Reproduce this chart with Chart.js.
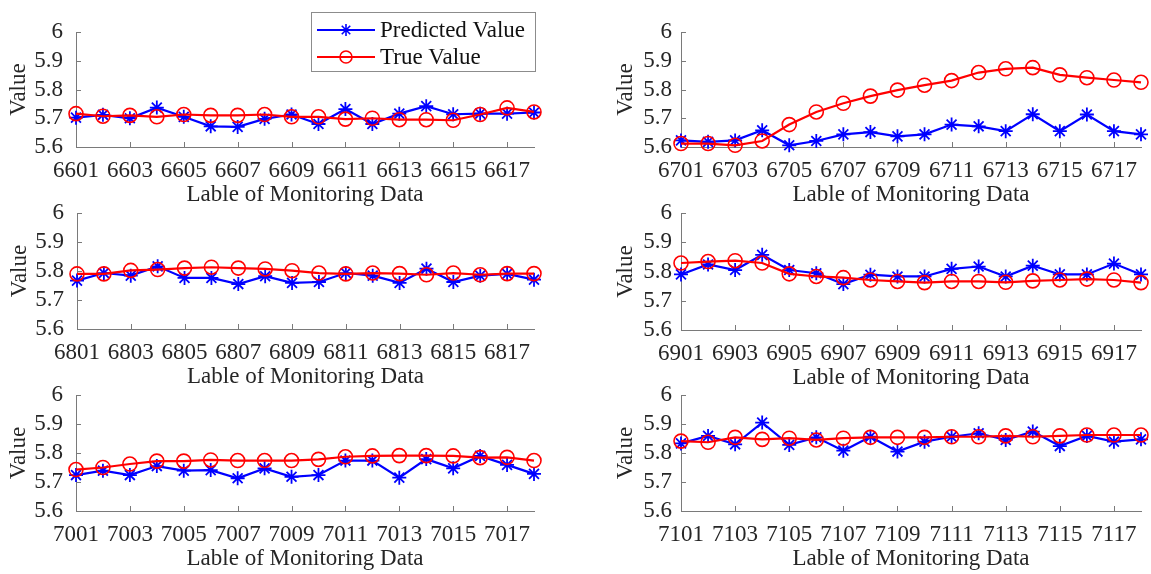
<!DOCTYPE html>
<html>
<head>
<meta charset="utf-8">
<script src="https://cdn.jsdelivr.net/npm/chart.js@4.4.1/dist/chart.umd.min.js"></script>
<style>
  body { margin: 0; background: #fff; width: 1151px; height: 574px; overflow: hidden; position: relative; }
  canvas { position: absolute; }
</style>
</head>
<body>
<script>
// monitoring data labels (x axis), one list per subplot
var ids66 = [6601,6602,6603,6604,6605,6606,6607,6608,6609,6610,6611,6612,6613,6614,6615,6616,6617,6618];
var ids67 = [6701,6702,6703,6704,6705,6706,6707,6708,6709,6710,6711,6712,6713,6714,6715,6716,6717,6718];
var ids68 = [6801,6802,6803,6804,6805,6806,6807,6808,6809,6810,6811,6812,6813,6814,6815,6816,6817,6818];
var ids69 = [6901,6902,6903,6904,6905,6906,6907,6908,6909,6910,6911,6912,6913,6914,6915,6916,6917,6918];
var ids70 = [7001,7002,7003,7004,7005,7006,7007,7008,7009,7010,7011,7012,7013,7014,7015,7016,7017,7018];
var ids71 = [7101,7102,7103,7104,7105,7106,7107,7108,7109,7110,7111,7112,7113,7114,7115,7116,7117,7118];

// predicted values (blue *)
var pred66 = [5.702,5.712,5.700,5.737,5.705,5.672,5.670,5.698,5.713,5.680,5.732,5.680,5.716,5.742,5.714,5.716,5.716,5.720];
var pred67 = [5.623,5.618,5.623,5.658,5.606,5.621,5.644,5.652,5.637,5.644,5.678,5.672,5.655,5.714,5.655,5.713,5.655,5.644];
var pred68 = [5.767,5.793,5.784,5.816,5.776,5.776,5.755,5.782,5.759,5.762,5.793,5.784,5.759,5.808,5.762,5.784,5.790,5.770];
var pred69 = [5.790,5.824,5.805,5.857,5.805,5.794,5.757,5.789,5.783,5.783,5.809,5.817,5.783,5.820,5.790,5.790,5.827,5.790];
var pred70 = [5.724,5.739,5.724,5.755,5.739,5.741,5.713,5.747,5.718,5.724,5.774,5.774,5.715,5.779,5.747,5.790,5.759,5.728];
var pred71 = [5.833,5.859,5.830,5.905,5.828,5.854,5.808,5.856,5.805,5.839,5.856,5.868,5.845,5.874,5.824,5.859,5.839,5.847];

// true values (red o)
var true66 = [5.716,5.707,5.710,5.705,5.713,5.710,5.710,5.713,5.705,5.705,5.697,5.700,5.695,5.695,5.693,5.713,5.736,5.722];
var true67 = [5.612,5.612,5.606,5.621,5.678,5.722,5.752,5.777,5.798,5.815,5.831,5.859,5.872,5.876,5.851,5.841,5.833,5.825];
var true68 = [5.790,5.790,5.802,5.805,5.810,5.813,5.810,5.807,5.801,5.793,5.790,5.793,5.791,5.787,5.793,5.787,5.791,5.791];
var true69 = [5.829,5.834,5.837,5.829,5.792,5.783,5.779,5.771,5.766,5.762,5.766,5.766,5.763,5.768,5.771,5.774,5.771,5.762];
var true70 = [5.743,5.750,5.762,5.772,5.772,5.776,5.774,5.774,5.774,5.778,5.787,5.790,5.791,5.791,5.790,5.784,5.785,5.774];
var true71 = [5.841,5.837,5.854,5.847,5.851,5.845,5.851,5.854,5.854,5.854,5.856,5.856,5.859,5.856,5.859,5.862,5.862,5.862];

var yMin = 5.6, yMax = 6, yStep = 0.1;
var xTitle = 'Lable of Monitoring Data';
var yTitle = 'Value';
var legendNames = ['Predicted Value', 'True Value'];

var BLUE = '#0000ff', RED = '#ff0000', AXIS = '#7a7a7a', TEXT = '#262626';
var FONT = '"Liberation Serif", "Times New Roman", serif';
Chart.defaults.font.family = FONT;
Chart.defaults.font.size = 23;
Chart.defaults.color = TEXT;

// chart area (l, r, t, b) in page pixels
var panels = [
  { ids: ids66, pred: pred66, truth: true66, l: 76,  r: 536,  t: 32,  b: 147, legend: true },
  { ids: ids67, pred: pred67, truth: true67, l: 681, r: 1143, t: 32,  b: 147 },
  { ids: ids68, pred: pred68, truth: true68, l: 77,  r: 536,  t: 213, b: 329 },
  { ids: ids69, pred: pred69, truth: true69, l: 681, r: 1143, t: 213, b: 330 },
  { ids: ids70, pred: pred70, truth: true70, l: 76,  r: 536,  t: 395, b: 511 },
  { ids: ids71, pred: pred71, truth: true71, l: 681, r: 1143, t: 395, b: 511 }
];

// matlab style inward tick marks
var inwardTicks = {
  id: 'inwardTicks',
  beforeDatasetsDraw: function (chart) {
    var ctx = chart.ctx, a = chart.chartArea;
    var xs = chart.scales.x, ys = chart.scales.y;
    ctx.save();
    ctx.strokeStyle = AXIS;
    ctx.lineWidth = 1;
    ctx.beginPath();
    for (var i = 2; i < xs.ticks.length; i += 2) {
      var px = Math.round(xs.getPixelForTick(i)) + 0.5;
      ctx.moveTo(px, a.bottom);
      ctx.lineTo(px, a.bottom - 5);
    }
    for (var j = 1; j < ys.ticks.length; j++) {
      var py = Math.round(ys.getPixelForTick(j)) + 0.5;
      ctx.moveTo(a.left, py);
      ctx.lineTo(a.left + 5, py);
    }
    ctx.stroke();
    ctx.restore();
  }
};

function drawStar(ctx, x, y, r) {
  var d = r * Math.SQRT1_2;
  ctx.moveTo(x - r, y); ctx.lineTo(x + r, y);
  ctx.moveTo(x, y - r); ctx.lineTo(x, y + r);
  ctx.moveTo(x - d, y - d); ctx.lineTo(x + d, y + d);
  ctx.moveTo(x - d, y + d); ctx.lineTo(x + d, y - d);
}

// legend box inside first subplot
var boxLegend = {
  id: 'boxLegend',
  afterDraw: function (chart, args, opts) {
    if (!opts.show) return;
    var ctx = chart.ctx;
    var bx = 311, by = 12, bw = 224, bh = 59;
    ctx.save();
    ctx.fillStyle = '#fff';
    ctx.fillRect(bx, by, bw, bh);
    ctx.strokeStyle = '#8c8c8c';
    ctx.lineWidth = 1;
    ctx.strokeRect(bx + 0.5, by + 0.5, bw, bh);
    var rows = [30, 57];
    var cols = [BLUE, RED];
    for (var k = 0; k < 2; k++) {
      var y = rows[k];
      ctx.strokeStyle = cols[k];
      ctx.lineWidth = 2;
      ctx.beginPath();
      ctx.moveTo(317, y); ctx.lineTo(375, y);
      ctx.stroke();
      ctx.lineWidth = 1.6;
      ctx.beginPath();
      if (k === 0) drawStar(ctx, 346, y, 6);
      else ctx.arc(346, y, 6, 0, Math.PI * 2);
      ctx.stroke();
      ctx.fillStyle = '#111';
      ctx.font = '23px ' + FONT;
      ctx.textBaseline = 'middle';
      ctx.textAlign = 'left';
      ctx.fillText(legendNames[k], 380, y + 1);
    }
    ctx.restore();
  }
};

panels.forEach(function (p) {
  var right = p.l > 600;
  var yW = right ? 74 : 76;
  var cx = p.l - yW;
  var cy = p.t - 32;
  var padR = 8;
  var xH = 62;
  var cv = document.createElement('canvas');
  cv.width = p.r - cx + padR;
  cv.height = p.b - cy + xH;
  cv.style.left = cx + 'px';
  cv.style.top = cy + 'px';
  document.body.appendChild(cv);

  new Chart(cv, {
    type: 'line',
    data: {
      labels: p.ids.map(String),
      datasets: [
        {
          label: legendNames[0],
          data: p.pred,
          borderColor: BLUE,
          borderWidth: 2.2,
          pointStyle: 'star',
          pointRadius: 7,
          pointBorderWidth: 1.8,
          pointBorderColor: BLUE,
          pointBackgroundColor: BLUE,
          tension: 0,
          clip: false,
          order: 1
        },
        {
          label: legendNames[1],
          data: p.truth,
          borderColor: RED,
          borderWidth: 2.2,
          pointStyle: 'circle',
          pointRadius: 7,
          pointBorderWidth: 1.6,
          pointBorderColor: RED,
          pointBackgroundColor: 'rgba(0,0,0,0)',
          tension: 0,
          clip: false,
          order: 0
        }
      ]
    },
    options: {
      responsive: false,
      animation: false,
      events: [],
      layout: { padding: { top: 32, right: padR, left: 0, bottom: 0 } },
      plugins: {
        legend: { display: false },
        tooltip: { enabled: false },
        boxLegend: { show: !!p.legend }
      },
      scales: {
        x: {
          type: 'category',
          offset: false,
          grid: { display: true, drawOnChartArea: false, drawTicks: false },
          border: { display: true, color: AXIS, width: 1 },
          ticks: {
            autoSkip: false,
            maxRotation: 0,
            padding: 10,
            callback: function (v, i) { return i % 2 === 0 ? this.getLabelForValue(v) : ''; }
          },
          title: { display: true, text: xTitle, padding: 0 },
          afterFit: function (s) { s.height = xH; }
        },
        y: {
          min: yMin,
          max: yMax,
          grid: { display: true, drawOnChartArea: false, drawTicks: false },
          border: { display: true, color: AXIS, width: 1 },
          ticks: {
            autoSkip: false,
            stepSize: yStep,
            padding: right ? 9 : 13,
            callback: function (v) { return String(+v.toFixed(1)); }
          },
          title: { display: true, text: yTitle, padding: { top: 5, bottom: 0 } },
          afterFit: function (s) { s.width = yW; }
        }
      }
    },
    plugins: [inwardTicks, boxLegend]
  });
});
</script>
</body>
</html>
